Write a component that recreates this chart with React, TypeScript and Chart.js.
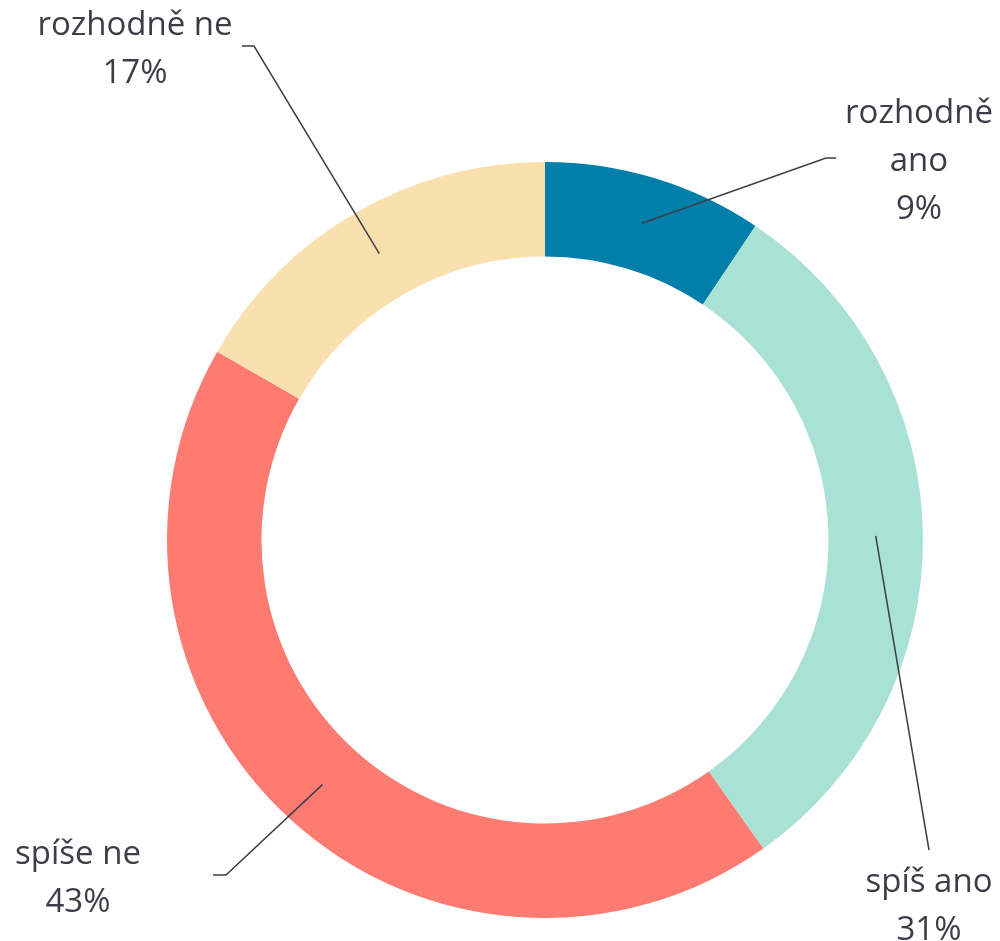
import React, { useEffect, useRef } from "react";
import { Chart, registerables } from "chart.js";

Chart.register(...registerables);

const categories = ["rozhodně ano", "spíš ano", "spíše ne", "rozhodně ne"];
const values = [9.4, 30.8, 43.1, 16.7];
const percentLabels = ["9%", "31%", "43%", "17%"];
const labelLines = [["rozhodně", "ano", "9%"], ["spíš ano", "31%"], ["spíše ne", "43%"], ["rozhodně ne", "17%"]];
const colors = ["#017FAB", "#A9E2D5", "#FD7B70", "#FBE0AF"];

// label layout: offsets from chart centre (px)
const connectorPoints: number[][][] = [
  [[281, -382], [291, -382]],
  [[384, 310]],
  [[-319, 335], [-332, 335]],
  [[-291, -494], [-303, -494]],
];
const textAnchors: number[][] = [
  [374, -417],
  [384, 352],
  [-467, 324],
  [-410, -505],
];
const LINE_H = 48;
const TEXT_COLOR = "#3D3D48";
const FONT = "33px 'Open Sans', sans-serif";

const labelPlugin = {
  id: "donutLabels",
  afterDraw(chart: any) {
    const ctx = chart.ctx;
    const meta = chart.getDatasetMeta(0);
    ctx.save();
    meta.data.forEach((arc: any, i: number) => {
      const p = arc.getProps(["x", "y", "startAngle", "endAngle", "innerRadius", "outerRadius"], true);
      const mid = (p.startAngle + p.endAngle) / 2;
      const r = (p.innerRadius + p.outerRadius) / 2;
      const sx = p.x + Math.cos(mid) * r;
      const sy = p.y + Math.sin(mid) * r;
      ctx.beginPath();
      ctx.strokeStyle = TEXT_COLOR;
      ctx.lineWidth = 1.5;
      ctx.moveTo(sx, sy);
      connectorPoints[i].forEach((pt) => ctx.lineTo(p.x + pt[0], p.y + pt[1]));
      ctx.stroke();
      ctx.fillStyle = TEXT_COLOR;
      ctx.font = FONT;
      ctx.textAlign = "center";
      ctx.textBaseline = "alphabetic";
      labelLines[i].forEach((line, j) => {
        ctx.fillText(line, p.x + textAnchors[i][0], p.y + textAnchors[i][1] + j * LINE_H);
      });
    });
    ctx.restore();
  },
};

export default function App() {
  const ref = useRef<HTMLCanvasElement>(null);
  useEffect(() => {
    if (!ref.current) return;
    const chart = new Chart(ref.current, {
      type: "doughnut",
      data: {
        labels: categories,
        datasets: [
          {
            data: values,
            backgroundColor: colors,
            borderWidth: 0,
          },
        ],
      },
      options: {
        animation: false,
        responsive: false,
        cutout: "75%",
        layout: { padding: { top: 162, bottom: 23, left: 167, right: 77 } },
        plugins: {
          legend: { display: false },
          tooltip: { enabled: false },
        },
      },
      plugins: [labelPlugin],
    });
    return () => chart.destroy();
  }, []);
  return (
    <div style={{ position: "absolute", left: 0, top: 0, width: 1000, height: 941, background: "#fff" }}>
      <canvas ref={ref} width={1000} height={941} style={{ display: "block" }} />
    </div>
  );
}
